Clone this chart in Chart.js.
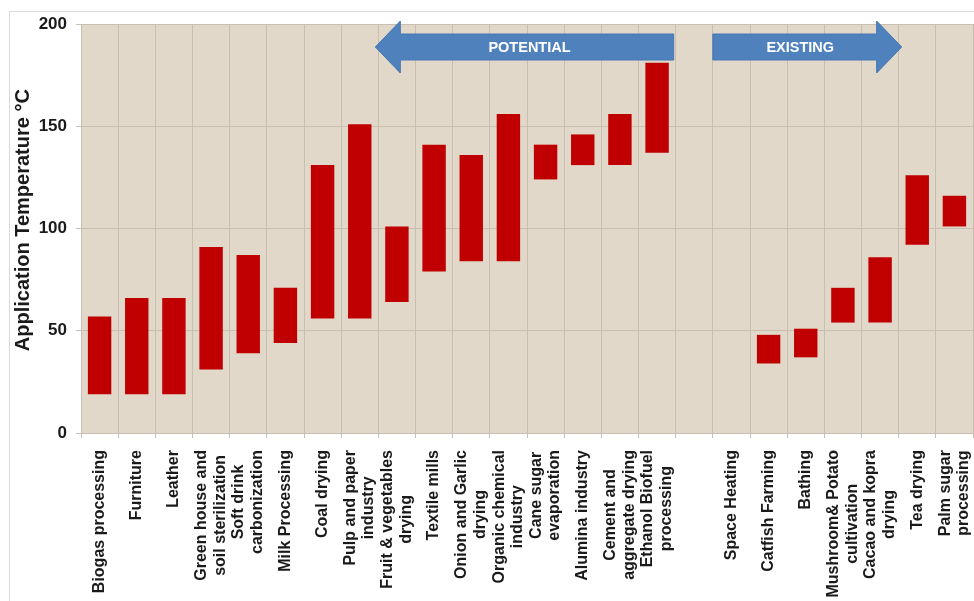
<!DOCTYPE html>
<html>
<head>
<meta charset="utf-8">
<title>Application temperature ranges of industrial processes</title>
<script src="https://cdn.jsdelivr.net/npm/chart.js@4.4.1/dist/chart.umd.min.js"></script>
<style>
  html, body { margin: 0; padding: 0; background: #ffffff; }
  #wrap { position: relative; width: 974px; height: 601px; overflow: hidden; }
  #frame { position: absolute; left: 9px; top: 11px; width: 1000px; height: 700px;
           border-left: 1px solid #d9d9d9; border-top: 1px solid #d9d9d9; }
  #chart { position: absolute; left: 0; top: 0; }
</style>
</head>
<body>
<div id="wrap">
  <div id="frame"></div>
  <canvas id="chart" width="974" height="601"></canvas>
</div>
<script>
// Processes (label lines) and their application temperature range in °C
const categories = [
  ['Biogas processing'],
  ['Furniture'],
  ['Leather'],
  ['Green house and', 'soil sterilization'],
  ['Soft drink', 'carbonization'],
  ['Milk Processing'],
  ['Coal drying'],
  ['Pulp and paper', 'industry'],
  ['Fruit & vegetables', 'drying'],
  ['Textile mills'],
  ['Onion and Garlic', 'drying'],
  ['Organic chemical', 'industry'],
  ['Cane sugar', 'evaporation'],
  ['Alumina industry'],
  ['Cement and', 'aggregate drying'],
  ['Ethanol Biofuel', 'processing'],
  [''],
  ['Space Heating'],
  ['Catfish Farming'],
  ['Bathing'],
  ['Mushroom& Potato', 'cultivation'],
  ['Cacao and kopra', 'drying'],
  ['Tea drying'],
  ['Palm sugar', 'processing']
];
const lowTemps  = [19, 19, 19, 31, 39, 44, 56, 56, 64, 79, 84, 84, 124, 131, 131, 137, null, null, 34, 37, 54, 54, 92, 101];
const highTemps = [57, 66, 66, 91, 87, 71, 131, 151, 101, 141, 136, 156, 141, 146, 156, 181, null, null, 48, 51, 71, 86, 126, 116];
const yTicks = [0, 50, 100, 150, 200];
const groupArrows = [
  { text: 'POTENTIAL', from: 8, to: 16, direction: 'left' },
  { text: 'EXISTING', from: 17, to: 22, direction: 'right' }
];

const ranges = lowTemps.map((lo, i) => (lo === null ? null : [lo, highTemps[i]]));
const FONT = '"Liberation Sans", Arial, Helvetica, sans-serif';

// Beige plot background
const plotBackground = {
  id: 'plotBackground',
  beforeDraw(chart) {
    const { ctx, chartArea: a } = chart;
    ctx.save();
    ctx.fillStyle = '#e1d8ca';
    ctx.fillRect(a.left, a.top, a.right - a.left, a.bottom - a.top);
    ctx.restore();
  }
};

// Centre each line of a rotated category label inside its block, and the block on its tick
const labelCentering = {
  id: 'labelCentering',
  beforeDraw(chart) {
    const scale = chart.scales.x;
    const items = scale.getLabelItems(chart.chartArea);
    const ctx = chart.ctx;
    items.forEach(item => {
      if (item._centered) return;
      const lines = [].concat(item.label);
      ctx.save();
      ctx.font = item.font.string;
      const w = Math.max(...lines.map(l => ctx.measureText(l).width));
      ctx.restore();
      const lh = item.font.lineHeight;
      item.options.translation[0] -= (lines.length - 1) * lh / 2;
      item.options.translation[1] += w / 2;
      item.options.textAlign = 'center';
      item._centered = true;
    });
  }
};

// Block arrows marking the potential and existing application groups
const groupArrowPlugin = {
  id: 'groupArrows',
  afterDraw(chart) {
    const { ctx, chartArea: a } = chart;
    const xs = chart.scales.x;
    const half = (xs.getPixelForValue(1) - xs.getPixelForValue(0)) / 2;
    const edge = i => xs.getPixelForValue(i) - half;
    const cy = a.top + 23;
    const shaft = 13, head = 26, headLen = 25;
    groupArrows.forEach(arw => {
      let x0, x1, tip, base;
      ctx.save();
      ctx.beginPath();
      if (arw.direction === 'left') {
        tip = edge(arw.from) - 3; x1 = edge(arw.to) - 2; base = tip + headLen;
        ctx.moveTo(tip, cy);
        ctx.lineTo(base, cy - head);
        ctx.lineTo(base, cy - shaft);
        ctx.lineTo(x1, cy - shaft);
        ctx.lineTo(x1, cy + shaft);
        ctx.lineTo(base, cy + shaft);
        ctx.lineTo(base, cy + head);
      } else {
        x0 = edge(arw.from); tip = edge(arw.to) + 3; base = tip - headLen;
        ctx.moveTo(tip, cy);
        ctx.lineTo(base, cy - head);
        ctx.lineTo(base, cy - shaft);
        ctx.lineTo(x0, cy - shaft);
        ctx.lineTo(x0, cy + shaft);
        ctx.lineTo(base, cy + shaft);
        ctx.lineTo(base, cy + head);
      }
      ctx.closePath();
      ctx.fillStyle = '#4f81bd';
      ctx.fill();
      ctx.lineWidth = 1;
      ctx.strokeStyle = '#4677b2';
      ctx.stroke();
      const tx = arw.direction === 'left' ? (tip + x1) / 2 + 5 : (x0 + tip) / 2 - 7;
      ctx.fillStyle = '#ffffff';
      ctx.font = 'bold 14.5px ' + FONT;
      ctx.textAlign = 'center';
      ctx.textBaseline = 'middle';
      ctx.fillText(arw.text, tx, cy + 1);
      ctx.restore();
    });
  }
};

new Chart(document.getElementById('chart'), {
  type: 'bar',
  data: {
    labels: categories,
    datasets: [{
      data: ranges,
      backgroundColor: '#c00000',
      borderWidth: 0,
      borderSkipped: false,
      barPercentage: 0.63,
      categoryPercentage: 1.0
    }]
  },
  options: {
    responsive: false,
    animation: false,
    devicePixelRatio: 1,
    events: [],
    layout: { padding: { top: 24, right: 1, left: 0, bottom: 0 } },
    plugins: { legend: { display: false }, tooltip: { enabled: false } },
    scales: {
      x: {
        offset: true,
        grid: { offset: true, color: '#c8bfb1', lineWidth: 1, tickLength: 5, drawTicks: true },
        border: { color: '#c8bfb1' },
        ticks: {
          autoSkip: false,
          maxRotation: 90,
          minRotation: 90,
          padding: 12,
          color: '#1a1a1a',
          font: { family: FONT, size: 16, weight: 'bold', lineHeight: 1.15 }
        },
        afterFit(scale) {
          scale.height = 168;
          scale.paddingLeft = 0;
          scale.paddingRight = 0;
        }
      },
      y: {
        min: 0,
        max: 200,
        afterBuildTicks(scale) { scale.ticks = yTicks.map(v => ({ value: v })); },
        grid: { color: '#c8bfb1', lineWidth: 1, tickLength: 5 },
        border: { color: '#c8bfb1' },
        ticks: {
          padding: 9,
          color: '#1a1a1a',
          font: { family: FONT, size: 17, weight: 'bold' }
        },
        title: {
          display: true,
          text: '   Application Temperature °C',
          color: '#1a1a1a',
          padding: { top: 11, bottom: 0 },
          font: { family: FONT, size: 20, weight: 'bold' }
        },
        afterFit(scale) {
          scale.width = 81;
          scale.paddingTop = 0;
          scale.paddingBottom = 0;
        }
      }
    }
  },
  plugins: [plotBackground, labelCentering, groupArrowPlugin]
});
</script>
</body>
</html>
